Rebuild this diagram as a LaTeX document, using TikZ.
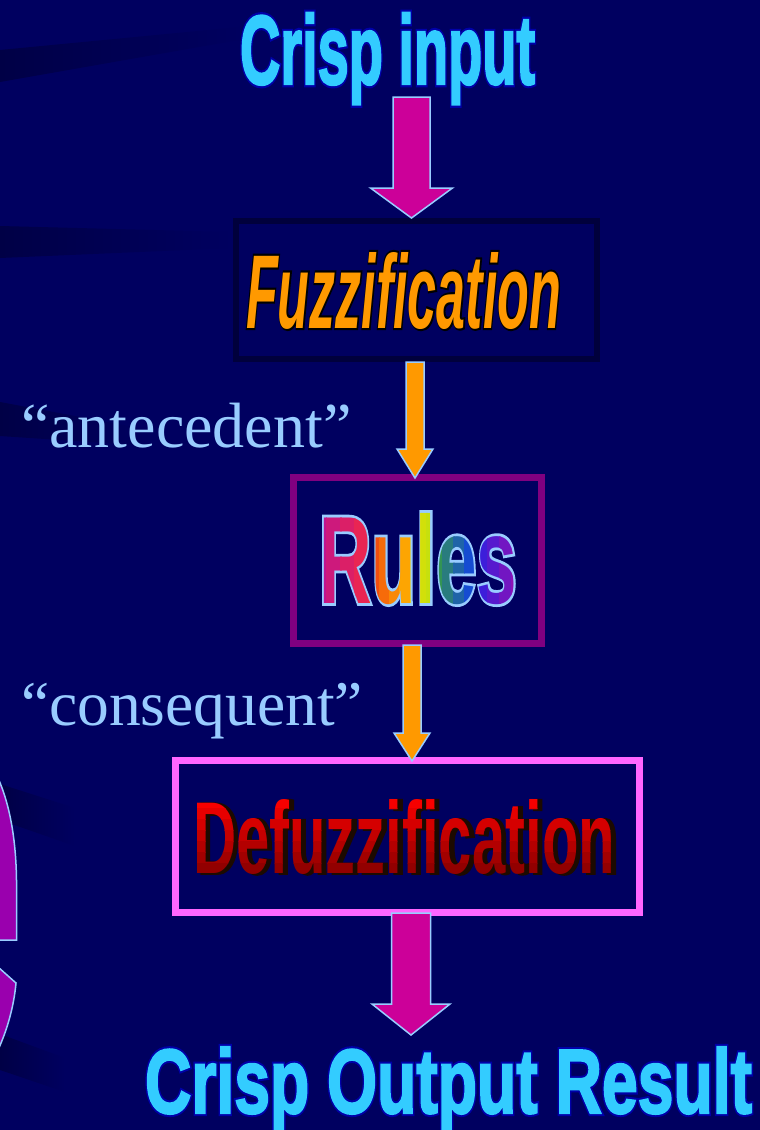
\documentclass[tikz,border=0pt]{standalone}
\usepackage{fontspec}
\setmainfont{Liberation Serif}
\setsansfont{Liberation Sans}
\newfontfamily\fbOut[FakeBold=7]{Liberation Sans Bold}
\newfontfamily\fbIn[FakeBold=2.5]{Liberation Sans Bold}
\newfontfamily\fbMid[FakeBold=4.5]{Liberation Sans Bold}
\newfontfamily\fbShadow[FakeBold=2]{Liberation Sans Bold}
\newfontfamily\fbPlain{Liberation Sans Bold}
\newfontfamily\fiOut[FakeBold=4]{Liberation Sans Bold Italic}
\newfontfamily\fiPlain{Liberation Sans Bold Italic}
\usetikzlibrary{calc}
\definecolor{bg}{HTML}{000060}
\definecolor{streak}{HTML}{000046}
\definecolor{cyantxt}{HTML}{33CCFF}
\definecolor{cyanline}{HTML}{0000A8}
\definecolor{magarrow}{HTML}{CC0099}
\definecolor{orgarrow}{HTML}{FF9900}
\definecolor{lblue}{HTML}{99CCFF}
\definecolor{fuzzline}{HTML}{00003C}
\definecolor{rulesline}{HTML}{800080}
\definecolor{defline}{HTML}{FF66FF}
\definecolor{shadowc}{HTML}{1C0A00}
\definecolor{leftshape}{HTML}{9A00AE}
\definecolor{topred}{HTML}{FF0000}
\definecolor{botred}{HTML}{880000}

\newcommand\CrispIn[1]{\resizebox{295pt}{71pt}{#1Crisp input}}
\newcommand\CrispOut[1]{\resizebox{607pt}{66pt}{#1Crisp Output Result}}
\newcommand\FuzzText[1]{\resizebox{315pt}{76pt}{#1Fuzzification}}
\newcommand\RulesText[1]{\resizebox{198pt}{90pt}{#1Rules}}
\newcommand\DefuzzText[1]{\resizebox{422pt}{74pt}{#1Defuzzification}}

\tikzset{
  txt/.style={inner sep=0pt, outer sep=0pt, anchor=base west},
  quote/.style={inner sep=0pt, outer sep=0pt, anchor=base west, text=lblue,
    font=\fontsize{64}{70}\selectfont},
  boxnode/.style={inner sep=0pt, outer sep=0pt, fill=bg},
  arrowline/.style={draw=lblue, line width=1.5pt, line join=miter},
}
% block arrow: start coordinate, tip coordinate, shaft half width, head half width, head length, style
\newcommand\blockarrow[6]{%
  \path[#6] let \p1=(#1), \p2=(#2) in
    (\x2-#3,\y1) -- (\x2+#3,\y1) -- (\x2+#3,\y2+#5) -- (\x2+#4,\y2+#5) --
    (\x2,\y2) -- (\x2-#4,\y2+#5) -- (\x2-#3,\y2+#5) -- cycle;}

\begin{document}
\begin{tikzpicture}[x=1pt,y=-1pt]
\useasboundingbox (0,0) rectangle (760,1130);
\fill[bg] (0,0) rectangle (760,1130);

% faint background streaks
\shade[left color=streak, right color=bg] (0,50) -- (250,26) -- (250,38) -- (0,82) -- cycle;
\shade[left color=streak, right color=bg] (0,226) -- (232,232) -- (232,248) -- (0,258) -- cycle;
\shade[left color=streak, right color=bg] (0,402) -- (150,430) -- (150,446) -- (0,436) -- cycle;
\shade[left color=streak, right color=bg] (0,784) -- (75,808) -- (75,846) -- (0,820) -- cycle;
\shade[left color=streak, right color=bg] (0,1034) -- (65,1058) -- (65,1092) -- (0,1070) -- cycle;

% partial shapes at the left edge
\path[fill=leftshape, draw=lblue, line width=1.5pt]
  (-2,778) .. controls (10,805) and (16,840) .. (16.5,880) -- (16.5,940) -- (-2,940) -- cycle;
\path[fill=leftshape, draw=lblue, line width=1.5pt]
  (-2,967) -- (16,983) .. controls (14,1005) and (8,1028) .. (-2,1050) -- cycle;

% boxes
\node[boxnode, draw=fuzzline, line width=6pt, minimum width=361pt, minimum height=138pt] (fuzz) at (416.5,290) {};
\node[boxnode, draw=rulesline, line width=7pt, minimum width=248pt, minimum height=166pt] (rules) at (417.5,560.5) {};
\node[boxnode, draw=defline, line width=7pt, minimum width=464pt, minimum height=152pt] (defuzz) at (407.5,836.5) {};

% text anchor coordinates
\coordinate (cinpos) at (240,84);
\coordinate (coutpos) at (145,1113);
\coordinate (fuzzpos) at (246,328);
\coordinate (rulespos) at (319,603);
\coordinate (defpos) at (193,873);

% Crisp input (outline layer, then face)
\node[txt,text=cyanline] (crispinline) at (cinpos) {\CrispIn\fbOut};
\node[txt,text=cyantxt] (crispin) at (cinpos) {\CrispIn\fbIn};

% Fuzzification
\node[txt,text=black] (fuzzline) at (fuzzpos) {\FuzzText\fiOut};
\node[txt,text=orgarrow] (fuzztext) at (fuzzpos) {\FuzzText\fiPlain};

% Rules with rainbow gradient
\node[txt,text=lblue] (rulesline) at (rulespos) {\RulesText\fbMid};
\foreach \xa/\xb/\ca/\cb in {312/369/B8109A/F02848, 369/410/F04010/FFB400,
    410/432/F0E000/C0E010, 432/475/38A040/1040E8, 475/524/3020E0/9A10B0}{%
  \definecolor{cA}{HTML}{\ca}\definecolor{cB}{HTML}{\cb}%
  \foreach \k in {0,...,3}{%
    \pgfmathsetmacro\xl{\xa+(\xb-\xa)*\k/4}%
    \pgfmathsetmacro\xr{\xa+(\xb-\xa)*(\k+1)/4+0.5}%
    \pgfmathtruncatemacro\pc{(\k+0.5)*25}%
    \begin{scope}
      \clip (\xl,480) rectangle (\xr,630);
      \node[txt,text=cB!\pc!cA] (rs-\xa-\k) at (rulespos) {\RulesText\fbPlain};
    \end{scope}}}

% Defuzzification with shadow and vertical red gradient
\node[txt,text=shadowc] (defshadow) at ($(defpos)+(4,0.8)$) {\DefuzzText\fbShadow};
\foreach \k in {0,...,6}{%
  \pgfmathsetmacro\yt{ifthenelse(\k==0,780,797+\k*11)}%
  \pgfmathsetmacro\yb{ifthenelse(\k==6,900,797+(\k+1)*11+0.5)}%
  \pgfmathtruncatemacro\pc{(\k+0.5)*100/7}%
  \begin{scope}
    \clip (180,\yt) rectangle (640,\yb);
    \node[txt,text=botred!\pc!topred] (dtx-\k) at (defpos) {\DefuzzText\fbPlain};
  \end{scope}}

% Crisp Output Result
\node[txt,text=cyanline] (crispoutline) at (coutpos) {\CrispOut\fbOut};
\node[txt,text=cyantxt] (crispout) at (coutpos) {\CrispOut\fbIn};

% side labels
\node[quote] (ante) at (21,447) {“antecedent”};
\node[quote, font=\fontsize{63.5}{70}\selectfont] (cons) at (21,725) {“consequent”};

% arrows
\coordinate (a1s) at (411.5,97);   \coordinate (a1e) at (411.5,218);
\coordinate (a2s) at (415,362);    \coordinate (a2e) at (415,478);
\coordinate (a3s) at (412,645);    \coordinate (a3e) at (412,761);
\coordinate (a4s) at (411,913);    \coordinate (a4e) at (411,1035);
\blockarrow{a1s}{a1e}{18.5pt}{41pt}{30pt}{arrowline, fill=magarrow}
\blockarrow{a2s}{a2e}{9pt}{18pt}{29pt}{arrowline, fill=orgarrow}
\blockarrow{a3s}{a3e}{9pt}{18pt}{28pt}{arrowline, fill=orgarrow}
\blockarrow{a4s}{a4e}{19.5pt}{39pt}{31pt}{arrowline, fill=magarrow}
\end{tikzpicture}
\end{document}
